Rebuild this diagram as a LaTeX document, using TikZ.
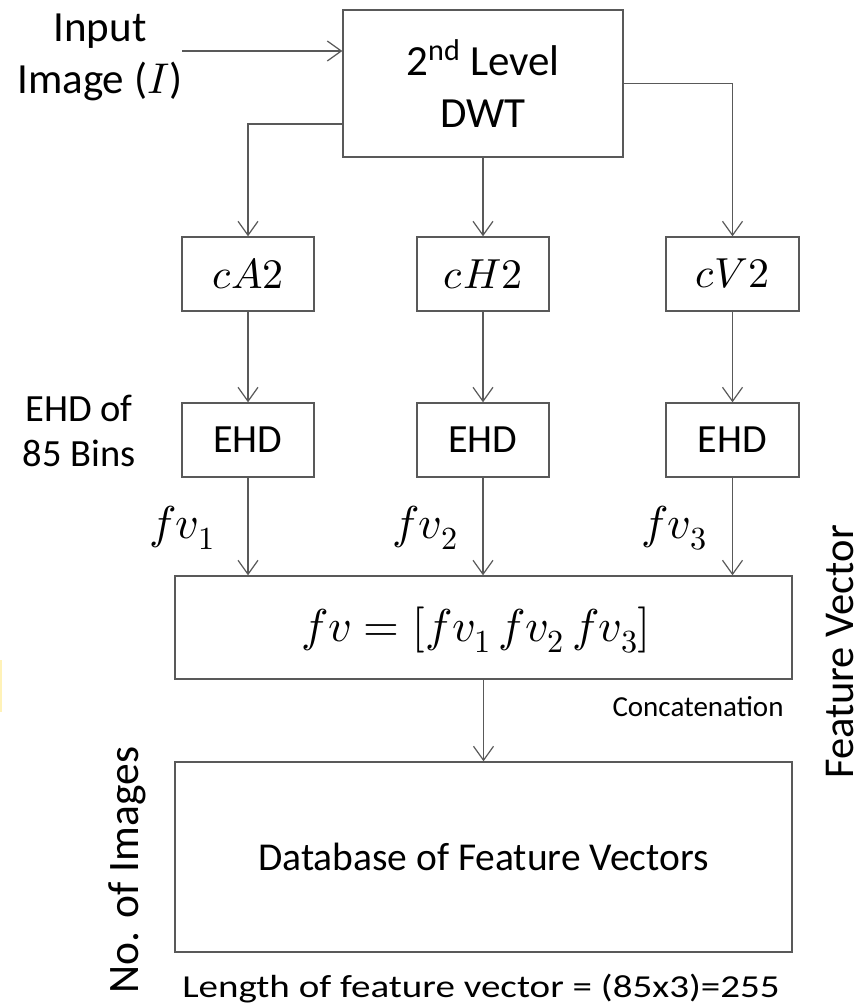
\documentclass[tikz,border=0pt]{standalone}
\usepackage{fontspec}
\usepackage{unicode-math}
\setmainfont{Carlito}
\setmathfont{Latin Modern Math}
\usetikzlibrary{arrows.meta,calc}

\definecolor{edge}{HTML}{595959}
\definecolor{stripe}{HTML}{FFF2B8}

\tikzset{
  conn/.style={draw=edge, line width=1.3pt},
  arr/.style={conn, -{Straight Barb[length=14pt,width=20pt,line width=1.2pt]}},
  blk/.style={draw=edge, line width=1.4pt, rectangle, inner sep=0pt, align=center},
  txt/.style={inner sep=0pt, align=center},
  bigtxt/.style={font=\fontsize{43}{52}\selectfont},
  midtxt/.style={font=\fontsize{40}{45}\selectfont},
  mathtxt/.style={font=\fontsize{46}{50}\selectfont},
  bandtxt/.style={font=\fontsize{42}{48}\selectfont},
}

\begin{document}
\begin{tikzpicture}[x=1pt, y=-1pt]
\useasboundingbox (0,0) rectangle (863,1008);
\fill[white] (0,0) rectangle (863,1008);
\fill[stripe] (0,660) rectangle (1.6,712);

% wavelet stage
\node[blk, bigtxt, minimum width=280pt, minimum height=147pt] (dwt) at (483,83.5)
  {2\textsuperscript{nd} Level\\DWT};
\node[txt, bigtxt] (inp) at (100,57) {Input\\Image ($I$)};
\coordinate (instart) at (182,51);

% sub-bands
\node[blk, bandtxt, minimum width=132pt, minimum height=74pt] (ca) at (248,274) {$cA2$};
\node[blk, bandtxt, minimum width=132pt, minimum height=74pt] (ch) at (483,274) {$cH2$};
\node[blk, bandtxt, minimum width=133pt, minimum height=74pt] (cv) at (732.5,274) {$cV2$};

% edge histograms
\node[blk, midtxt, minimum width=132pt, minimum height=74pt] (ea) at (248,440) {EHD};
\node[blk, midtxt, minimum width=132pt, minimum height=74pt] (eh) at (483,440) {EHD};
\node[blk, midtxt, minimum width=133pt, minimum height=74pt] (ev) at (732.5,440) {EHD};
\node[txt, font=\fontsize{38.5}{45}\selectfont] (ehdlbl) at (79,431) {EHD of\\85 Bins};

% feature vectors
\node[txt, mathtxt] (f1) at (182,528) {$fv_1$};
\node[txt, mathtxt] (f2) at (425,528) {$fv_2$};
\node[txt, mathtxt] (f3) at (674,528) {$fv_3$};

\node[blk, minimum width=617pt, minimum height=103pt] (fv) at (483.5,627.5) {};
\node[txt, mathtxt] (formula) at (476,630) {$fv = [fv_1\,fv_2\,fv_3]$};
\node[txt, font=\fontsize{29}{34}\selectfont] (concat) at (698,707) {Concatenation};

% database
\node[blk, font=\fontsize{39.5}{45}\selectfont, minimum width=617pt, minimum height=190pt] (db) at (483.5,857)
  {Database of Feature Vectors};
\node[txt, font=\fontsize{42.5}{48}\selectfont, rotate=90, anchor=base] (fvlbl) at (853,652) {Feature Vector};
\node[txt, font=\fontsize{43.5}{48}\selectfont, rotate=90, anchor=base] (nimg) at (138,870) {No. of Images};
\node[txt, font=\fontsize{32}{36}\selectfont, xscale=1.22] (len) at (481,989)
  {Length of feature vector = (85x3)=255};

% connectors
\draw[arr] (instart) -- (instart -| dwt.west);
\draw[arr] ([yshift=-40.5pt]dwt.west) -| (ca.north);
\draw[arr] (dwt.south) -- (ch.north);
\draw[arr] (dwt.east) -| (cv.north);
\draw[arr] (ca.south) -- (ea.north);
\draw[arr] (ch.south) -- (eh.north);
\draw[arr] (cv.south) -- (ev.north);
\draw[arr] (ea.south) -- (ea.south |- fv.north);
\draw[arr] (eh.south) -- (eh.south |- fv.north);
\draw[arr] (ev.south) -- (ev.south |- fv.north);
\draw[arr] (fv.south) -- (fv.south |- db.north);
\end{tikzpicture}
\end{document}
